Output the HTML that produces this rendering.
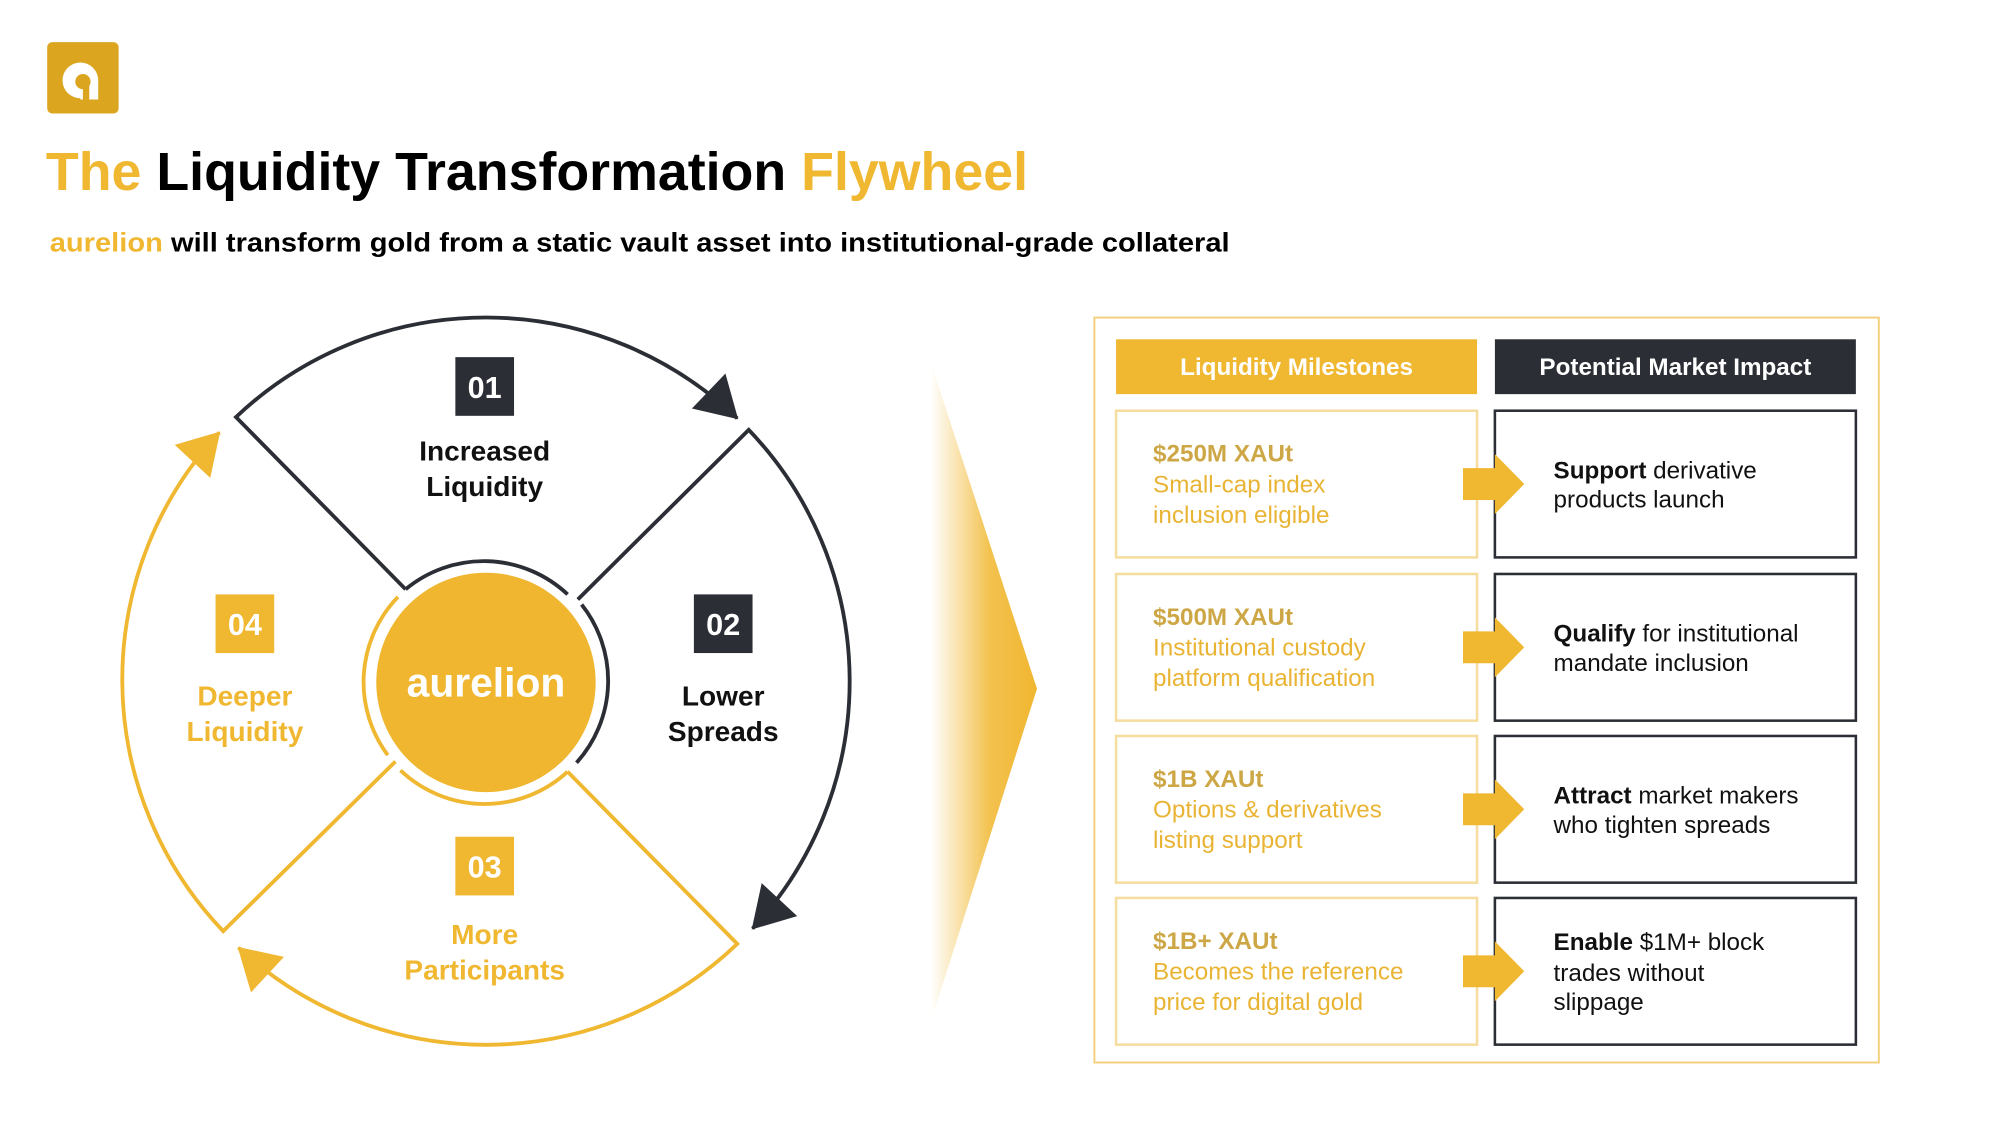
<!DOCTYPE html>
<html><head><meta charset="utf-8"><style>
html,body{margin:0;padding:0;background:#fff;}
svg{display:block;}
text{font-family:"Liberation Sans",Arial,sans-serif;}
</style></head><body>
<svg width="2000" height="1125" viewBox="0 0 1568 882" preserveAspectRatio="none" xmlns="http://www.w3.org/2000/svg">
<defs>
<marker id="ad" viewBox="0 0 10 10" refX="9" refY="5" markerWidth="10" markerHeight="10" markerUnits="userSpaceOnUse" orient="auto" style="overflow:visible">
<path d="M-22,-14 L10,5 L-22,24 Z" fill="#2B2E35"/>
</marker>
<marker id="ag" viewBox="0 0 10 10" refX="9" refY="5" markerWidth="10" markerHeight="10" markerUnits="userSpaceOnUse" orient="auto" style="overflow:visible">
<path d="M-22,-14 L10,5 L-22,24 Z" fill="#F0B731"/>
</marker>
<linearGradient id="chev" x1="0" y1="0" x2="1" y2="0">
<stop offset="0" stop-color="#fff" stop-opacity="1"/>
<stop offset="0.55" stop-color="#F3C24F"/>
<stop offset="1" stop-color="#F0B62F"/>
</linearGradient>
</defs>

<!-- logo -->
<rect x="37" y="33" width="56" height="56" rx="4" fill="#DBA520"/>
<circle cx="63" cy="63" r="14" fill="#fff"/>
<rect x="63" y="63" width="14" height="15" fill="#fff"/>
<circle cx="65" cy="64" r="6" fill="#DBA520"/>
<rect x="65" y="64" width="5" height="14" fill="#DBA520"/>

<!-- title -->
<text x="36" y="149" font-size="42" font-weight="bold" textLength="770" lengthAdjust="spacingAndGlyphs"><tspan fill="#F0B731">The </tspan><tspan fill="#000">Liquidity Transformation </tspan><tspan fill="#F0B731">Flywheel</tspan></text>
<text x="39" y="197" font-size="21" font-weight="bold" textLength="925" lengthAdjust="spacingAndGlyphs"><tspan fill="#F0B731">aurelion</tspan><tspan fill="#000"> will transform gold from a static vault asset into institutional-grade collateral</tspan></text>

<!-- flywheel -->
<g fill="none" stroke-width="3">
<path d="M318,462 L185,327 A285,285 0 0 1 578,328" stroke="#2B2E35" marker-end="url(#ad)"/>
<path d="M453,470 L587,337 A285,285 0 0 1 590,728" stroke="#2B2E35" marker-end="url(#ad)"/>
<path d="M445,605 L578,740 A285,285 0 0 1 187,743" stroke="#F0B731" marker-end="url(#ag)"/>
<path d="M310,597 L175,730 A285,285 0 0 1 172,339" stroke="#F0B731" marker-end="url(#ag)"/>
<path d="M318,462 A96,96 0 0 1 445,466" stroke="#2B2E35"/>
<path d="M456,474 A96,96 0 0 1 452,598" stroke="#2B2E35"/>
<path d="M445,605 A96,96 0 0 1 314,604" stroke="#F0B731"/>
<path d="M304,592 A96,96 0 0 1 312,468" stroke="#F0B731"/>
</g>
<circle cx="381" cy="535" r="86" fill="#F0B62F"/>
<text x="381" y="546" font-size="32" font-weight="bold" fill="#fff" text-anchor="middle">aurelion</text>

<rect x="357" y="280" width="46" height="46" fill="#2B2E35"/>
<text x="380" y="312" font-size="24" font-weight="bold" fill="#fff" text-anchor="middle">01</text>
<text x="380" y="361" font-size="22" font-weight="bold" fill="#111" text-anchor="middle">Increased</text>
<text x="380" y="389" font-size="22" font-weight="bold" fill="#111" text-anchor="middle">Liquidity</text>

<rect x="544" y="466" width="46" height="46" fill="#2B2E35"/>
<text x="567" y="498" font-size="24" font-weight="bold" fill="#fff" text-anchor="middle">02</text>
<text x="567" y="553" font-size="22" font-weight="bold" fill="#111" text-anchor="middle">Lower</text>
<text x="567" y="581" font-size="22" font-weight="bold" fill="#111" text-anchor="middle">Spreads</text>

<rect x="357" y="656" width="46" height="46" fill="#F0B731"/>
<text x="380" y="688" font-size="24" font-weight="bold" fill="#fff" text-anchor="middle">03</text>
<text x="380" y="740" font-size="22" font-weight="bold" fill="#F0B731" text-anchor="middle">More</text>
<text x="380" y="768" font-size="22" font-weight="bold" fill="#F0B731" text-anchor="middle">Participants</text>

<rect x="169" y="466" width="46" height="46" fill="#F0B731"/>
<text x="192" y="498" font-size="24" font-weight="bold" fill="#fff" text-anchor="middle">04</text>
<text x="192" y="553" font-size="22" font-weight="bold" fill="#F0B731" text-anchor="middle">Deeper</text>
<text x="192" y="581" font-size="22" font-weight="bold" fill="#F0B731" text-anchor="middle">Liquidity</text>

<polygon points="730,285 813,540 730,800" fill="url(#chev)"/>

<rect x="858" y="249" width="615" height="584" fill="none" stroke="#F3CF7A" stroke-width="1.5"/>
<rect x="875" y="266" width="283" height="43" fill="#F0B731"/>
<text x="1016.5" y="294" font-size="19" font-weight="bold" fill="#fff" text-anchor="middle">Liquidity Milestones</text>
<rect x="1172" y="266" width="283" height="43" fill="#2B2E35"/>
<text x="1313.5" y="294" font-size="19" font-weight="bold" fill="#fff" text-anchor="middle">Potential Market Impact</text>

<g font-size="19">
<rect x="875" y="322" width="283" height="115" fill="#fff" stroke="#F5DDA0" stroke-width="2"/>
<rect x="1172" y="322" width="283" height="115" fill="#fff" stroke="#2B2E35" stroke-width="2"/>
<text x="904" y="362" font-weight="bold" fill="#CDA746">$250M XAUt</text>
<text x="904" y="386" fill="#E9B434">Small-cap index</text>
<text x="904" y="410" fill="#E9B434">inclusion eligible</text>
<text x="1218" y="375" fill="#111"><tspan font-weight="bold">Support</tspan> derivative</text>
<text x="1218" y="398" fill="#111">products launch</text>
<polygon points="1147,367 1172,367 1172,356 1195,379.5 1172,403 1172,392 1147,392" fill="#F0B731"/>

<rect x="875" y="450" width="283" height="115" fill="#fff" stroke="#F5DDA0" stroke-width="2"/>
<rect x="1172" y="450" width="283" height="115" fill="#fff" stroke="#2B2E35" stroke-width="2"/>
<text x="904" y="490" font-weight="bold" fill="#CDA746">$500M XAUt</text>
<text x="904" y="514" fill="#E9B434">Institutional custody</text>
<text x="904" y="538" fill="#E9B434">platform qualification</text>
<text x="1218" y="503" fill="#111"><tspan font-weight="bold">Qualify</tspan> for institutional</text>
<text x="1218" y="526" fill="#111">mandate inclusion</text>
<polygon points="1147,495 1172,495 1172,484 1195,507.5 1172,531 1172,520 1147,520" fill="#F0B731"/>

<rect x="875" y="577" width="283" height="115" fill="#fff" stroke="#F5DDA0" stroke-width="2"/>
<rect x="1172" y="577" width="283" height="115" fill="#fff" stroke="#2B2E35" stroke-width="2"/>
<text x="904" y="617" font-weight="bold" fill="#CDA746">$1B XAUt</text>
<text x="904" y="641" fill="#E9B434">Options &amp; derivatives</text>
<text x="904" y="665" fill="#E9B434">listing support</text>
<text x="1218" y="630" fill="#111"><tspan font-weight="bold">Attract</tspan> market makers</text>
<text x="1218" y="653" fill="#111">who tighten spreads</text>
<polygon points="1147,622 1172,622 1172,611 1195,634.5 1172,658 1172,647 1147,647" fill="#F0B731"/>

<rect x="875" y="704" width="283" height="115" fill="#fff" stroke="#F5DDA0" stroke-width="2"/>
<rect x="1172" y="704" width="283" height="115" fill="#fff" stroke="#2B2E35" stroke-width="2"/>
<text x="904" y="744" font-weight="bold" fill="#CDA746">$1B+ XAUt</text>
<text x="904" y="768" fill="#E9B434">Becomes the reference</text>
<text x="904" y="792" fill="#E9B434">price for digital gold</text>
<text x="1218" y="745" fill="#111"><tspan font-weight="bold">Enable</tspan> $1M+ block</text>
<text x="1218" y="769" fill="#111">trades without</text>
<text x="1218" y="792" fill="#111">slippage</text>
<polygon points="1147,749 1172,749 1172,738 1195,761.5 1172,785 1172,774 1147,774" fill="#F0B731"/>
</g>
</svg>
</body></html>
